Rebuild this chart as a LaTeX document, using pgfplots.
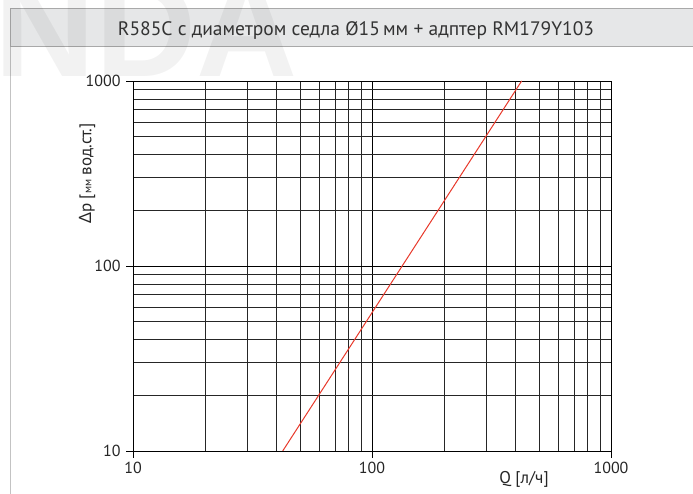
\documentclass[border=0pt]{standalone}
\usepackage{pgfplots}
\pgfplotsset{compat=1.18}
\usepackage{fontspec}
\setmainfont{PT Sans}
\newfontfamily\greekfont{Noto Sans}
\newfontfamily\wmfont{Liberation Sans}
\definecolor{boxfill}{HTML}{E6E7E8}
\definecolor{boxline}{HTML}{A9A9A9}
\definecolor{kvred}{HTML}{E8392B}
\begin{document}
\begin{tikzpicture}
\path[use as bounding box] (0pt,0pt) rectangle (693pt,494pt);
\clip (0pt,0pt) rectangle (693pt,494pt);
\fill[white] (0pt,0pt) rectangle (693pt,494pt);
% title banner
\draw[boxline, fill=boxfill, line width=1pt] (10pt,447pt) rectangle (705pt,485pt);
\draw[boxline!70, line width=0.8pt] (10pt,447pt) -- (10pt,0pt);
% watermark
\node[anchor=base west, inner sep=0pt, text=black, opacity=0.05, font=\wmfont\bfseries\fontsize{140}{140}\selectfont] at (-6pt,417pt) {NDA};
\node[anchor=base, inner sep=0pt, text=black!80, font=\fontsize{19.5}{19.5}\selectfont] at (356pt,458pt) {R585C с диаметром седла Ø15\,мм + адптер RM179Y103};
\begin{axis}[
  at={(133pt,43pt)}, anchor=south west,
  scale only axis, width=478pt, height=370pt,
  xmode=log, ymode=log,
  xmin=10, xmax=1000, ymin=10, ymax=1000,
  log ticks with fixed point,
  /pgf/number format/1000 sep={},
  /pgf/number format/assume math mode=true,
  xtick={10,100,1000}, ytick={10,100,1000},
  xtick pos=bottom, ytick pos=left,
  tick label style={font=\fontsize{16}{16}\selectfont, text=black!85},
  tick align=outside, major tick length=7pt, minor tick length=0pt,
  tick style={black, line width=0.8pt},
  grid=both,
  major grid style={black, line width=0.8pt},
  minor grid style={black!85, line width=0.8pt},
  axis line style={black, line width=0.8pt},
  xticklabel style={yshift=-1pt},
  yticklabel style={xshift=-2pt},
  xlabel={Q [л/ч]},
  ylabel={{\greekfont Δ}p [{\fontsize{11}{11}\selectfont мм} вод.ст.]},
  label style={font=\fontsize{17}{17}\selectfont, text=black!85},
  xlabel style={at={(axis description cs:0.818,-0.076)}, anchor=center},
  ylabel style={at={(axis description cs:-0.096,0.75)}, anchor=center},
  clip=true,
]
\addplot[kvred, line width=1pt] coordinates {(42.3,10) (422.8,1000)};
\node[text=kvred, font=\fontsize{15}{15}\selectfont, inner sep=0pt] at (axis description cs:0.841,1.034) {Kv = 1,35};
\end{axis}
\end{tikzpicture}
\end{document}
